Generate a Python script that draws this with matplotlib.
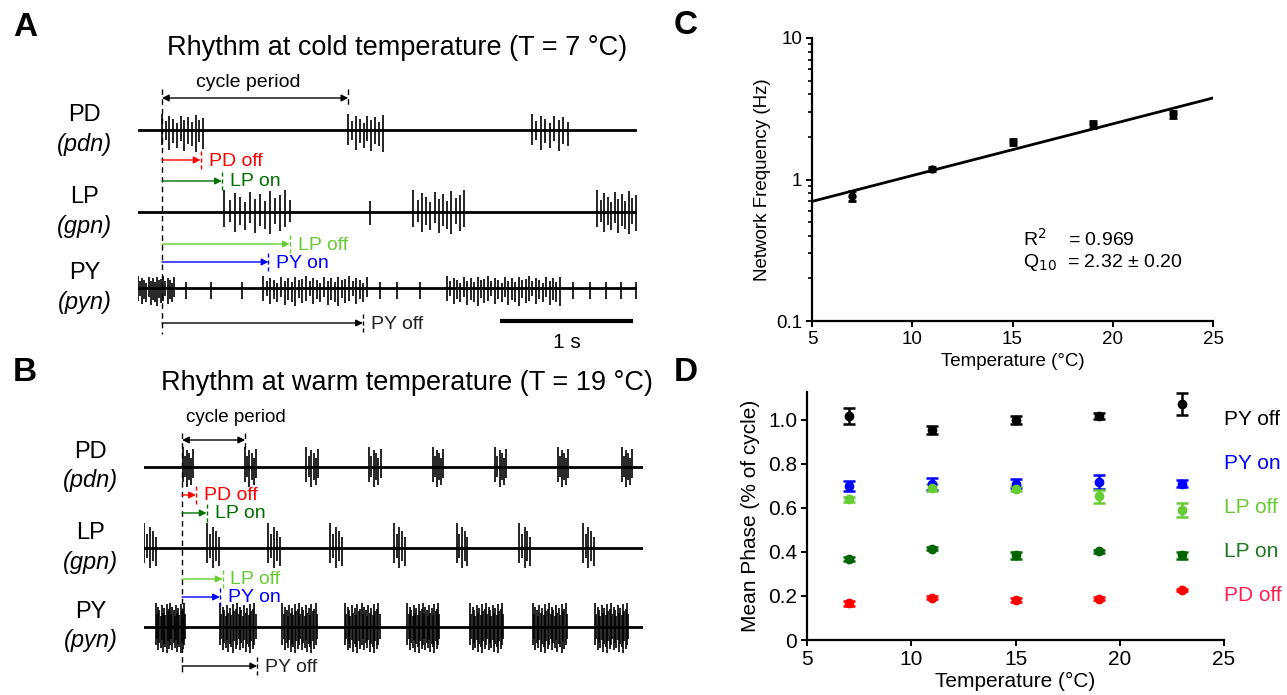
import numpy as np
import matplotlib
matplotlib.use("Agg")
import matplotlib.pyplot as plt
from matplotlib.ticker import FixedLocator, FuncFormatter, LogLocator, NullFormatter

plt.rcParams['font.family'] = ['Liberation Sans', 'DejaVu Sans']

W, H = 1287, 695

# ---- Panel A: rhythm at 7 °C (times in s from trace start) ----
a_pd_bursts = [(0.18, 0.49, 12), (1.58, 1.84, 10), (2.96, 3.23, 9)]
a_lp_bursts = [(0.65, 1.14, 14), (2.07, 2.45, 13), (3.45, 3.74, 12)]
a_py_bursts = [(0.0, 0.27, 18), (0.94, 1.72, 30), (2.32, 3.17, 34)]
a_py_single = [0.36, 0.55, 0.78, 1.82, 1.95, 2.12, 3.27, 3.40, 3.52, 3.63, 3.74]
a_lp_single = [1.74]
# phase markers for A: cycle start, cycle end, PD off, LP on, LP off, PY on, PY off
a_events = {'start': 0.18, 'period': 1.58, 'PD off': 0.47, 'LP on': 0.63,
            'LP off': 1.14, 'PY on': 0.98, 'PY off': 1.69}

# ---- Panel B: rhythm at 19 °C ----
b_pd_bursts = [(0.29, 0.37, 6), (0.76, 0.84, 6), (1.22, 1.31, 6), (1.69, 1.78, 6),
               (2.17, 2.25, 6), (2.64, 2.72, 6), (3.11, 3.19, 6), (3.59, 3.67, 6)]
b_lp_bursts = [(0.0, 0.09, 5), (0.47, 0.56, 5), (0.93, 1.02, 5), (1.40, 1.49, 5),
               (1.88, 1.96, 5), (2.35, 2.43, 5), (2.82, 2.90, 5), (3.30, 3.38, 5)]
b_py_bursts = [(0.09, 0.31, 26), (0.57, 0.84, 26), (1.04, 1.30, 26), (1.51, 1.77, 26),
               (1.98, 2.22, 26), (2.45, 2.70, 26), (2.92, 3.18, 26), (3.39, 3.64, 26)]
b_events = {'start': 0.286, 'period': 0.76, 'PD off': 0.39, 'LP on': 0.47,
            'LP off': 0.59, 'PY on': 0.57, 'PY off': 0.85}

amp_pattern = [1.0, 0.55, 0.85, 0.7, 0.45, 0.9, 0.6, 0.8, 0.5, 0.95, 0.65, 0.75]

# ---- Panel C: network frequency ----
temps = [7, 11, 15, 19, 23]
freq = [0.77, 1.19, 1.83, 2.45, 2.88]
freq_err = [0.06, 0.04, 0.09, 0.13, 0.16]
fit_f5 = 0.70
q10 = 2.32

# ---- Panel D: mean phase ----
phase_labels = ['PY off', 'PY on', 'LP off', 'LP on', 'PD off']
phase_colors = ['black', '#0000FF', '#66CC33', '#006400', '#FF0000']
label_colors = ['black', '#0000FF', '#66CC33', '#1E7A1E', '#FF2050']
phase_means = [
    [1.018, 0.955, 1.000, 1.018, 1.071],
    [0.700, 0.708, 0.711, 0.719, 0.711],
    [0.640, 0.693, 0.688, 0.653, 0.590],
    [0.369, 0.415, 0.385, 0.403, 0.385],
    [0.167, 0.193, 0.182, 0.188, 0.228],
]
phase_errs = [
    [0.035, 0.018, 0.020, 0.015, 0.050],
    [0.022, 0.028, 0.022, 0.032, 0.017],
    [0.012, 0.015, 0.010, 0.030, 0.032],
    [0.010, 0.008, 0.016, 0.006, 0.016],
    [0.012, 0.008, 0.008, 0.008, 0.006],
]

fig = plt.figure(figsize=(W / 100, H / 100), dpi=100, facecolor='white')


def fbox(x0, y0, x1, y1):
    return [x0 / W, 1 - y1 / H, (x1 - x0) / W, (y1 - y0) / H]


def draw_bursts(ax, bursts, base, up, down, lw=1.2):
    for start, end, n in bursts:
        times = np.linspace(start, end, n)
        k = np.arange(n)
        au = np.array([amp_pattern[i % len(amp_pattern)] for i in k])
        ad = np.array([amp_pattern[(i + 3) % len(amp_pattern)] for i in k])
        ax.vlines(times, base - up * au, base + down * ad, color='black', lw=lw)


def trace_panel(box, y0, y1, rows, bursts, singles, events, ev_rows, txt_off,
                scale_bar, cycle_centered, cycle_size):
    ax = fig.add_axes(box)
    ax.set_xlim(0, 3.75)
    ax.set_ylim(y1, y0)
    ax.axis('off')
    names = [('PD', '(pdn)'), ('LP', '(gpn)'), ('PY', '(pyn)')]
    for (name, nerve), (base, up, down), brs, sng in zip(names, rows, bursts, singles):
        ax.plot([0, 3.75], [base, base], color='black', lw=2.0)
        draw_bursts(ax, brs, base, up, down)
        if sng:
            ax.vlines(sng, base - up * 0.5, base + down * 0.6, color='black', lw=1.2)
        ax.text(-0.40, base - 15, name, fontsize=17, ha='center', va='center', clip_on=False)
        ax.text(-0.40, base + 14, nerve, fontsize=17, style='italic', ha='center', va='center', clip_on=False)

    t0 = events['start']
    ax.vlines(t0, ev_rows['top'], ev_rows['bottom'], color='black', lw=1.0, linestyles=(0, (4, 3)))
    # cycle period
    yc = ev_rows['cycle']
    ax.annotate('', xy=(events['period'], yc), xytext=(t0, yc),
                arrowprops=dict(arrowstyle='<|-|>', color='black', lw=1.0,
                                mutation_scale=10, shrinkA=0, shrinkB=0))
    ax.vlines(events['period'], ev_rows['top'], yc + 10, color='black', lw=1.0, linestyles=(0, (4, 3)))
    if cycle_centered:
        ax.text((t0 + events['period']) / 2 - 0.05, yc - 15, 'cycle period',
                fontsize=cycle_size, ha='center', va='center')
    else:
        ax.text(t0 + 0.03, yc - 22, 'cycle period', fontsize=cycle_size,
                ha='left', va='center')
    arrow_cols = {'PD off': '#FF0000', 'LP on': '#007000', 'LP off': '#66CC33',
                  'PY on': '#0000FF', 'PY off': 'black'}
    for key, col in arrow_cols.items():
        y = ev_rows[key]
        te = events[key]
        ax.annotate('', xy=(te, y), xytext=(t0, y),
                    arrowprops=dict(arrowstyle='-|>', color=col, lw=1.0,
                                    mutation_scale=10, shrinkA=0, shrinkB=0))
        ax.vlines(te, y - 9, y + 9, color=col, lw=1.0, linestyles=(0, (3, 2)))
        ax.text(te + txt_off, y + 1, key, color=col if key != 'PY off' else '#222222',
                fontsize=14, ha='left', va='center')
    if scale_bar:
        ax.plot([2.72, 3.72], [321, 321], color='black', lw=3, solid_capstyle='butt')
        ax.text(3.22, 342, '1 s', fontsize=15, ha='center', va='center')
    return ax


# Panel A
trace_panel(fbox(138, 60, 637, 350), 60, 350,
            [(130, 16, 22), (212, 22, 22), (288, 12, 18)],
            [a_pd_bursts, a_lp_bursts, a_py_bursts],
            [None, a_lp_single, a_py_single],
            a_events,
            {'top': 89, 'bottom': 334, 'cycle': 98, 'PD off': 160, 'LP on': 181,
             'LP off': 244, 'PY on': 262, 'PY off': 323},
            0.06, True, True, 14)
fig.text(397 / W, 1 - 48 / H, 'Rhythm at cold temperature (T = 7 °C)', fontsize=19.5,
         ha='center', va='center')
fig.text(25 / W, 1 - 28 / H, 'A', fontsize=24, fontweight='bold', ha='center', va='center')

# Panel B
trace_panel(fbox(144, 400, 643, 690), 400, 690,
            [(467, 20, 22), (548, 25, 22), (627, 24, 26)],
            [b_pd_bursts, b_lp_bursts, b_py_bursts],
            [None, None, None],
            b_events,
            {'top': 433, 'bottom': 673, 'cycle': 440, 'PD off': 495, 'LP on': 513,
             'LP off': 579, 'PY on': 597, 'PY off': 666},
            0.06, False, False, 13.5)
fig.text(407 / W, 1 - 383 / H, 'Rhythm at warm temperature (T = 19 °C)', fontsize=19.5,
         ha='center', va='center')
fig.text(25 / W, 1 - 372 / H, 'B', fontsize=24, fontweight='bold', ha='center', va='center')

# Panel C
axc = fig.add_axes(fbox(812, 38, 1213, 321))
tfit = np.array([5, 25])
axc.plot(tfit, fit_f5 * q10 ** ((tfit - 5) / 10), color='black', lw=2)
axc.errorbar(temps, freq, yerr=freq_err, fmt='o', color='black', ms=5,
             capsize=3, elinewidth=2, capthick=2)
axc.set_yscale('log')
axc.set_xlim(5, 25)
axc.set_ylim(0.1, 10)
axc.set_xticks([5, 10, 15, 20, 25])
axc.yaxis.set_major_locator(FixedLocator([0.1, 1, 10]))
axc.yaxis.set_major_formatter(FuncFormatter(lambda v, p: f'{v:g}'))
axc.yaxis.set_minor_locator(LogLocator(base=10, subs=np.arange(2, 10)))
axc.yaxis.set_minor_formatter(NullFormatter())
axc.set_xlabel('Temperature (°C)', fontsize=13.5, labelpad=4)
axc.set_ylabel('Network Frequency (Hz)', fontsize=13.5, labelpad=4)
axc.text(15.5, 0.38, r'R$^2$    = 0.969', fontsize=14, ha='left', va='center')
axc.text(15.5, 0.26, r'Q$_{10}$  = 2.32 ± 0.20', fontsize=14, ha='left', va='center')
fig.text(686 / W, 1 - 25 / H, 'C', fontsize=24, fontweight='bold', ha='center', va='center')

# Panel D
axd = fig.add_axes(fbox(807, 392, 1224, 640))
for means, errs, col in zip(phase_means, phase_errs, phase_colors):
    axd.errorbar(temps, means, yerr=errs, fmt='o', color=col, ms=6,
                 capsize=4, elinewidth=1.8, capthick=1.8)
axd.set_xlim(5, 25)
axd.set_ylim(0, 1.127)
axd.set_xticks([5, 10, 15, 20, 25])
axd.set_yticks([0, 0.2, 0.4, 0.6, 0.8, 1.0])
axd.yaxis.set_major_formatter(FuncFormatter(lambda v, p: '0' if v == 0 else f'{v:.1f}'))
axd.set_xlabel('Temperature (°C)', fontsize=15, labelpad=2)
axd.set_ylabel('Mean Phase (% of cycle)', fontsize=15, labelpad=6)
for i, (lab, col) in enumerate(zip(phase_labels, label_colors)):
    axd.text(25.0, 1.0 - 0.2 * i, lab, color=col, fontsize=15, ha='left', va='center',
             clip_on=False)
fig.text(686 / W, 1 - 372 / H, 'D', fontsize=24, fontweight='bold', ha='center', va='center')

for ax, lsize in [(axc, 13.5), (axd, 15)]:
    ax.spines['top'].set_visible(False)
    ax.spines['right'].set_visible(False)
    ax.spines['left'].set_linewidth(1.6)
    ax.spines['bottom'].set_linewidth(1.6)
    ax.tick_params(which='major', length=4, width=1.4, labelsize=lsize, pad=3)
    ax.tick_params(which='minor', length=3, width=1.2)

fig.savefig('out.png', dpi=100, facecolor='white')
